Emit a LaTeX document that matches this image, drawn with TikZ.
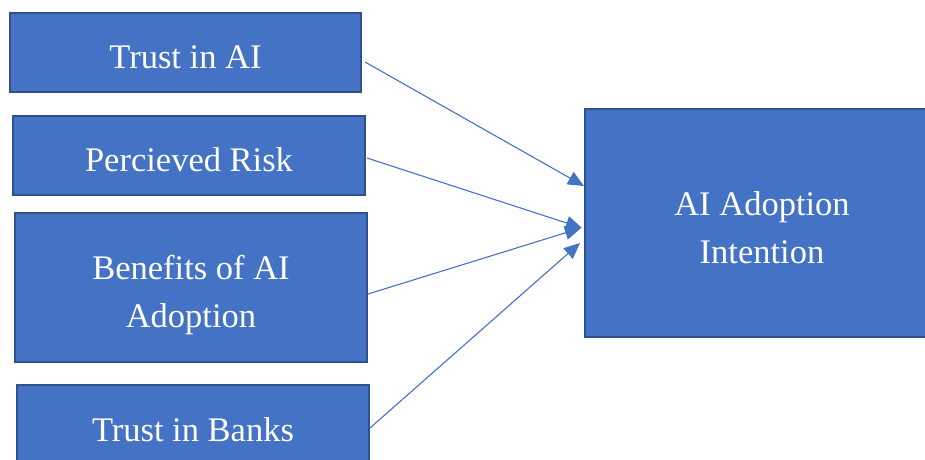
\documentclass[tikz,border=0pt]{standalone}
\usepackage{fontspec}
\setmainfont{Liberation Serif}
\usetikzlibrary{arrows.meta,calc}
\definecolor{boxfill}{HTML}{4472C4}
\definecolor{boxline}{HTML}{2F528F}
\definecolor{arrowc}{HTML}{4472C4}
\begin{document}
\begin{tikzpicture}[x=1pt,y=-1pt,
  box/.style={draw=boxline,fill=boxfill,line width=2pt,rectangle,
    text=white,align=center,inner sep=2pt,
    font=\fontsize{34.5}{48}\selectfont,text height=32pt,text depth=0pt},
  twoline/.style={text height=80pt,text depth=0pt},
  link/.style={draw=arrowc,line width=1.1pt,-{Triangle[length=16pt,width=14pt]}}]
\useasboundingbox (0,0) rectangle (925,459);
\clip (0,0) rectangle (925,459);
\node[box,minimum width=351pt,minimum height=79pt] (t) at (185.5,52.5) {Trust in AI};
\node[box,minimum width=352pt,minimum height=79pt] (r) at (189,155.5) {Percieved Risk};
\node[box,twoline,minimum width=352pt,minimum height=149pt] (b) at (191,287.5) {Benefits of AI\\Adoption};
\node[box,minimum width=352pt,minimum height=81pt] (k) at (193,425.5) {Trust in Banks};
\node[box,twoline,minimum width=354pt,minimum height=228pt] (i) at (762,223) {AI Adoption\\Intention};
\draw[link] ($(t.east)+(3,9.5)$) -- ($(i.west)+(0,-37)$);
\draw[link] ($(r.east)+(1,2.5)$) -- ($(i.west)+(-2,5)$);
\draw[link] ($(b.east)+(0,6.5)$) -- ($(i.west)+(-3,5)$);
\draw[link] ($(k.east)+(0,2.5)$) -- ($(i.west)+(-4,20)$);
\end{tikzpicture}
\end{document}
